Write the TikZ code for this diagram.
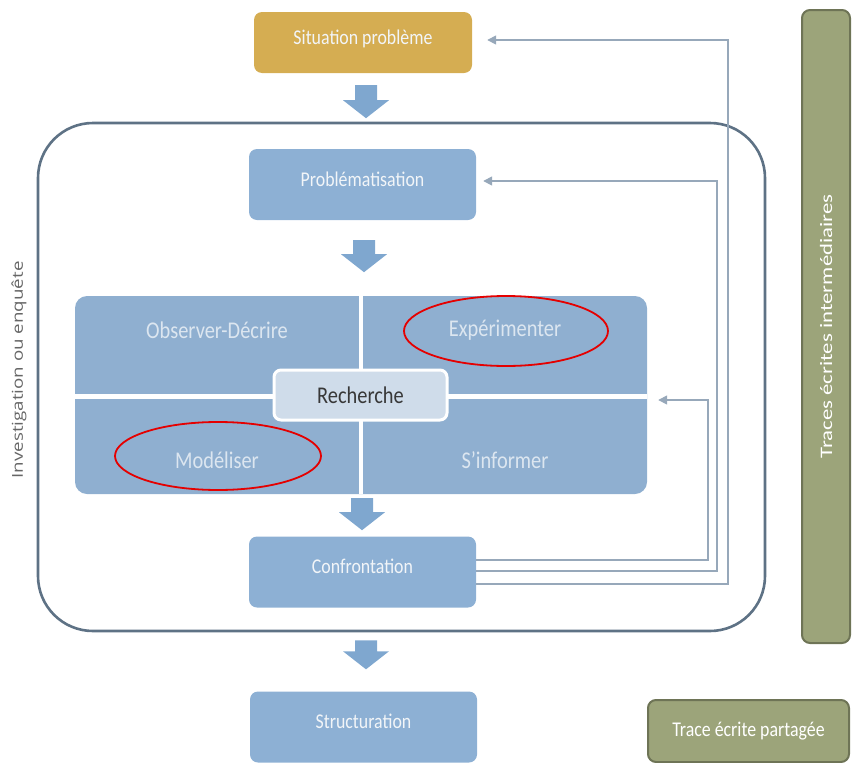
\documentclass[tikz,border=0pt]{standalone}
\usepackage{fontspec}
\setmainfont{Carlito}
\newfontfamily\condfont{Carlito}[FakeStretch=0.85]
\newfontfamily\widefont{Carlito}[FakeStretch=1.3]
\newfontfamily\invfont{Open Sans}[FakeStretch=1.25]
\usetikzlibrary{calc,arrows.meta,shapes.geometric}
\definecolor{goldc}{HTML}{D5AD52}
\definecolor{boxblue}{HTML}{8DB0D4}
\definecolor{quadblue}{HTML}{8FAFD0}
\definecolor{rboxc}{HTML}{CFDCEA}
\definecolor{arrowblue}{HTML}{7FA7CF}
\definecolor{framec}{HTML}{5E7285}
\definecolor{fbc}{HTML}{97A8BA}
\definecolor{olive}{HTML}{9CA47A}
\definecolor{olivedark}{HTML}{6E7456}
\definecolor{lighttext}{HTML}{F2F5F8}
\definecolor{quadtext}{HTML}{DCE6F0}
\definecolor{invtext}{HTML}{666666}
\newcommand\blockarr[2]{%
  \fill[arrowblue] ($(#1)+(-11,0)$) -- ($(#2)+(-11,18)$) -- ($(#2)+(-23,18)$) -- (#2)
    -- ($(#2)+(23,18)$) -- ($(#2)+(11,18)$) -- ($(#1)+(11,0)$) -- cycle;}
\begin{document}
\begin{tikzpicture}[x=1pt,y=1pt,
  box/.style={rounded corners=8pt, fill=boxblue, text=lighttext, minimum width=227pt,
    minimum height=71pt, inner sep=0pt, text height=8pt, text depth=5pt,
    font=\condfont\fontsize{21}{24}\selectfont},
  quadlbl/.style={text=quadtext, font=\condfont\fontsize{24}{27}\selectfont},
  olivebox/.style={rounded corners=8pt, fill=olive, draw=olivedark, line width=2pt,
    text=white, inner sep=0pt},
  fb/.style={draw=fbc, line width=1.6pt, -{Triangle[width=9pt,length=9pt]}},
  redell/.style={ellipse, draw=red!90!black, line width=1.8pt, inner sep=0pt}]
\useasboundingbox (0,0) rectangle (852,-763);

% outer frame
\node[draw=framec, line width=2.6pt, rounded corners=55pt, minimum width=727pt,
  minimum height=508pt, inner sep=0pt] (frame) at (401.5,-377) {};
\node[rotate=90, text=invtext, font=\invfont\fontsize{15}{18}\selectfont] (inv) at (19,-370) {Investigation ou enquête};

% main boxes
\node[box, fill=goldc, minimum width=218pt, minimum height=61pt] (sit) at (363,-42.5) {Situation problème};
\node[box] (prob) at (362.5,-184.5) {Problématisation};
\node[box] (conf) at (362.5,-572) {Confrontation};
\node[box] (struct) at (363.5,-727) {Structuration};

% research block
\node[fill=quadblue, rounded corners=12pt, minimum width=572pt, minimum height=198pt, inner sep=0pt] (rech) at (361,-395) {};
\draw[white, line width=4.5pt] (rech.north) -- (rech.south);
\draw[white, line width=5pt] ([yshift=-1pt]rech.west) -- ([yshift=-1pt]rech.east);
\node[quadlbl] (q1) at (217,-330) {Observer-Décrire};
\node[quadlbl] (q2) at (505,-330) {Expérimenter};
\node[quadlbl] (q3) at (217,-460) {Modéliser};
\node[quadlbl] (q4) at (505,-460) {S’informer};
\node[fill=rboxc, draw=white, line width=3pt, rounded corners=7pt, minimum width=173pt,
  minimum height=50pt, inner sep=0pt, text=black!78, font=\condfont\fontsize{24}{26}\selectfont] (rbox) at (360.5,-395) {Recherche};

% red ellipses
\node[redell, minimum width=204pt, minimum height=70pt] (e1) at (506,-331) {};
\node[redell, minimum width=206pt, minimum height=68pt] (e2) at (218,-456) {};

% side boxes
\node[olivebox, rotate=90, minimum width=633pt, minimum height=48pt,
  font=\widefont\fontsize{17.5}{20}\selectfont] (inter) at (826,-326.5) {Traces écrites intermédiaires};
\node[olivebox, minimum width=201pt, minimum height=62pt,
  font=\condfont\fontsize{21}{24}\selectfont] (part) at (748.5,-731) {Trace écrite partagée};

% block arrows
\coordinate (a1s) at ($(sit.south)+(3,-12)$);  \coordinate (a1t) at ($(a1s)+(0,-33)$);
\coordinate (a2s) at ($(prob.south)+(1.5,-20)$); \coordinate (a2t) at ($(a2s)+(0,-32)$);
\coordinate (a3s) at ($(rech.south)+(1,-4)$);   \coordinate (a3t) at ($(a3s)+(0,-32)$);
\coordinate (a4s) at ($(frame.south)+(-35.5,-8)$); \coordinate (a4t) at ($(a4s)+(0,-29)$);
\blockarr{a1s}{a1t}
\blockarr{a2s}{a2t}
\blockarr{a3s}{a3t}
\blockarr{a4s}{a4t}

% feedback lines
\coordinate (k1) at (708,-400);
\coordinate (k2) at (717,-181);
\coordinate (k3) at (728,-40);
\draw[fb] ([yshift=12pt]conf.east) -| (k1) -- ([xshift=11pt]rech.east |- k1);
\draw[fb] ([yshift=1pt]conf.east) -| (k2) -- ([xshift=7pt]prob.east |- k2);
\draw[fb] ([yshift=-12pt]conf.east) -| (k3) -- ([xshift=15pt]sit.east |- k3);
\end{tikzpicture}
\end{document}
